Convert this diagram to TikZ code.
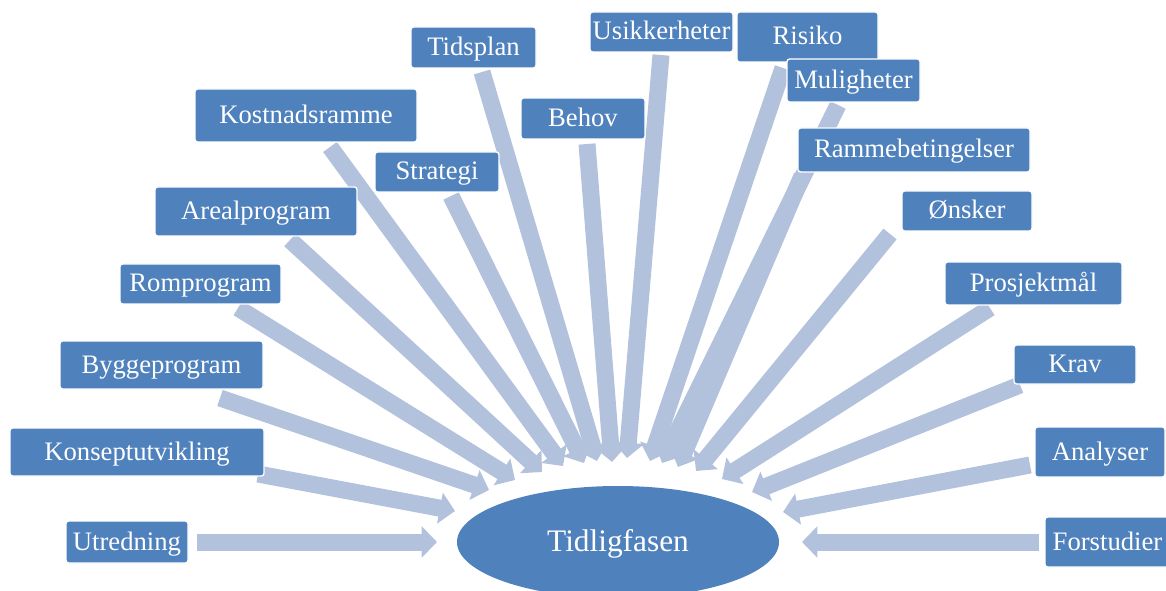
\documentclass[tikz,border=0pt]{standalone}
\usepackage{fontspec}
\setmainfont{Liberation Serif}
\usetikzlibrary{arrows.meta,shapes.geometric}
\definecolor{boxblue}{HTML}{4F81BD}
\definecolor{flowblue}{HTML}{B3C2DC}
\tikzset{
  box/.style={rectangle, rounded corners=2pt, fill=boxblue, draw=white,
    line width=1pt, text=white, inner sep=0pt, text height=16pt, text depth=4pt,
    font=\fontsize{20}{22}\selectfont},
  hub/.style={ellipse, fill=boxblue, draw=none, text=white, inner sep=0pt,
    text height=18.6pt, text depth=4pt,
    minimum width=241.5pt, minimum height=84pt, font=\fontsize{23.5}{26}\selectfont},
  flow/.style={draw=flowblue, line width=12.75pt, line cap=butt,
    -{Triangle[width=23pt,length=11.5pt]}}
}
\begin{document}
\begin{tikzpicture}[x=0.75pt,y=-0.75pt]
\useasboundingbox (0,0) rectangle (1166,591);

% tails and tips of the block arrows
\coordinate (s1)  at (197,542);  \coordinate (e1)  at (437,542);
\coordinate (s2)  at (258,474);  \coordinate (e2)  at (455,511);
\coordinate (s3)  at (220,398);  \coordinate (e3)  at (489,490);
\coordinate (s4)  at (238,308);  \coordinate (e4)  at (515,480);
\coordinate (s5)  at (290,240);  \coordinate (e5)  at (542,472);
\coordinate (s6)  at (330,147);  \coordinate (e6)  at (563,466);
\coordinate (s7)  at (451,196);  \coordinate (e7)  at (584,463);
\coordinate (s8)  at (482,72);   \coordinate (e8)  at (597,461);
\coordinate (s9)  at (587,144);  \coordinate (e9)  at (612,462);
\coordinate (s10) at (661,55);   \coordinate (e10) at (627,458);
\coordinate (s11) at (783,68);   \coordinate (e11) at (650,461);
\coordinate (s12) at (838,105);  \coordinate (e12) at (662,463);
\coordinate (s13) at (802,176);  \coordinate (e13) at (678,467);
\coordinate (s14) at (890,234);  \coordinate (e14) at (696,471);
\coordinate (s15) at (990,308);  \coordinate (e15) at (722,479);
\coordinate (s16) at (1020,385); \coordinate (e16) at (752,492);
\coordinate (s17) at (1030,465); \coordinate (e17) at (783,512);
\coordinate (s18) at (1039,542); \coordinate (e18) at (802,542);

\foreach \i in {1,...,18} \draw[flow] (s\i) -- (e\i);

% central phase
\node[hub] (tid) at (618,542) {Tidligfasen};

% input boxes
\node[box, minimum width=91.5pt,  minimum height=31.5pt]  (utr)  at (127,542)   {Utredning};
\node[box, minimum width=190.5pt, minimum height=36pt]    (kon)  at (137,452)   {Konseptutvikling};
\node[box, minimum width=152.25pt,minimum height=36pt]    (byg)  at (161.5,365) {Byggeprogram};
\node[box, minimum width=120.75pt,minimum height=30pt]    (rom)  at (200.5,284) {Romprogram};
\node[box, minimum width=151.5pt, minimum height=36.75pt] (are)  at (256,211.5) {Arealprogram};
\node[box, minimum width=166.5pt, minimum height=39.75pt] (kos)  at (306,115.5) {Kostnadsramme};
\node[box, minimum width=93pt,    minimum height=30pt]    (str)  at (437,172)   {Strategi};
\node[box, minimum width=93.75pt, minimum height=30.75pt] (tpl)  at (473.5,47.5){Tidsplan};
\node[box, minimum width=93pt,    minimum height=30.75pt] (beh)  at (583,118.5) {Behov};
\node[box, minimum width=107.25pt,minimum height=30pt]    (usi)  at (661.5,32)  {Usikkerheter};
\node[box, minimum width=105.75pt,minimum height=37.5pt]  (ris)  at (807.5,37)  {Risiko};
\node[box, minimum width=99.75pt, minimum height=32.25pt] (mul)  at (853.5,80.5){Muligheter};
\node[box, minimum width=174pt,   minimum height=33pt]    (ram)  at (914,150)   {Rammebetingelser};
\node[box, minimum width=97.5pt,  minimum height=30pt]    (ons)  at (967,211)   {Ønsker};
\node[box, minimum width=132.75pt,minimum height=32.25pt] (pro)  at (1033.5,283.5){Prosjektmål};
\node[box, minimum width=91.5pt,  minimum height=29.25pt] (kra)  at (1075,364.5) {Krav};
\node[box, minimum width=97.5pt,  minimum height=37.5pt]  (ana)  at (1100,452)  {Analyser};
\node[box, minimum width=93.75pt, minimum height=37.5pt]  (for)  at (1107.5,542){Forstudier};
\end{tikzpicture}
\end{document}
